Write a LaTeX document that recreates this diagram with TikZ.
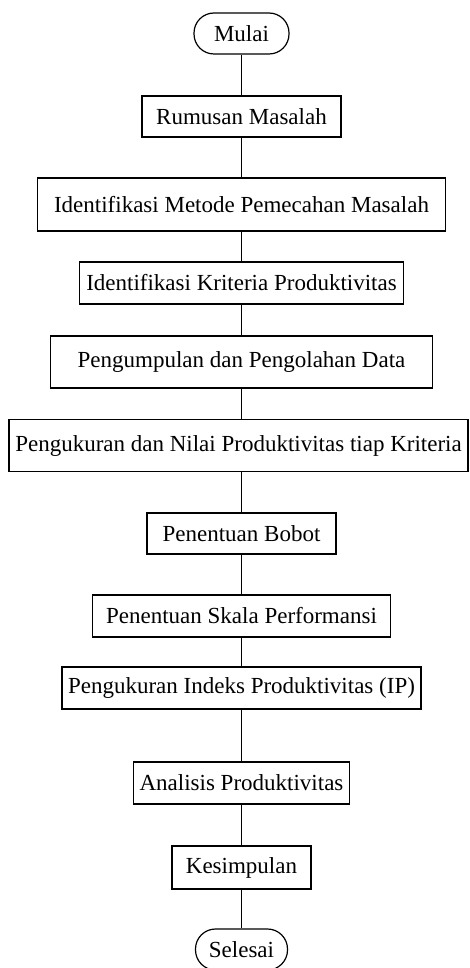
\documentclass[tikz,border=0pt]{standalone}
\usepackage{fontspec}
\setmainfont{Liberation Serif}
\begin{document}
\begin{tikzpicture}[x=1pt,y=-1pt,
  box/.style={draw,line width=1.2pt,rectangle,inner sep=0pt,minimum height=41pt,font=\fontsize{23}{27}\selectfont},
  term/.style={box,rounded corners=20pt},
  link/.style={line width=1.2pt}]
\useasboundingbox (0,0) rectangle (470,968);
\node[term,minimum width=95pt,minimum height=41pt] (mulai) at (241.5,33.5) {Mulai};
\node[box,minimum width=199pt] (rumusan) at (241.5,116.5) {Rumusan Masalah};
\node[box,minimum width=408pt,minimum height=53pt] (metode) at (241.5,204.5) {Identifikasi Metode Pemecahan Masalah};
\node[box,minimum width=324pt,minimum height=42pt] (kriteria) at (241.5,283) {Identifikasi Kriteria Produktivitas};
\node[box,minimum width=382pt,minimum height=52pt] (kumpul) at (241.5,362) {Pengumpulan dan Pengolahan Data};
\node[box,minimum width=459pt,minimum height=52pt] (nilai) at (238.5,445.5) {Pengukuran dan Nilai Produktivitas tiap Kriteria};
\node[box,minimum width=189pt] (bobot) at (241.5,533.5) {Penentuan Bobot};
\node[box,minimum width=298pt,minimum height=42pt] (skala) at (241.5,616) {Penentuan Skala Performansi};
\node[box,minimum width=359pt,minimum height=42pt] (indeks) at (241.5,688) {Pengukuran Indeks Produktivitas (IP)};
\node[box,minimum width=216pt,minimum height=42pt] (analisis) at (241.5,783) {Analisis Produktivitas};
\node[box,minimum width=139pt,minimum height=43pt] (simpul) at (241.5,867.5) {Kesimpulan};
\node[term,minimum width=92pt,minimum height=41pt] (selesai) at (241.5,949.5) {Selesai};
\draw[link] (mulai.south) -- (mulai.south |- rumusan.north);
\draw[link] (rumusan.south) -- (rumusan.south |- metode.north);
\draw[link] (metode.south) -- (metode.south |- kriteria.north);
\draw[link] (kriteria.south) -- (kriteria.south |- kumpul.north);
\draw[link] (kumpul.south) -- (kumpul.south |- nilai.north);
\draw[link] (bobot.north |- nilai.south) -- (bobot.north);
\draw[link] (bobot.south) -- (bobot.south |- skala.north);
\draw[link] (skala.south) -- (skala.south |- indeks.north);
\draw[link] (indeks.south) -- (indeks.south |- analisis.north);
\draw[link] (analisis.south) -- (analisis.south |- simpul.north);
\draw[link] (simpul.south) -- (simpul.south |- selesai.north);
\end{tikzpicture}
\end{document}
